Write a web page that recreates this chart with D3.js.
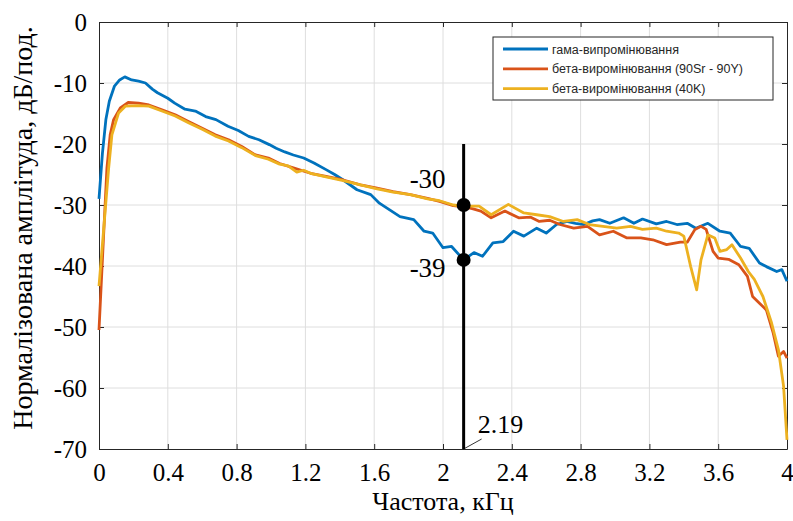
<!DOCTYPE html>
<html>
<head>
<meta charset="utf-8">
<script src="https://cdn.jsdelivr.net/npm/d3@7"></script>
<style>
  body { margin: 0; background: #fff; }
  svg { display: block; }
  .tick text { font-family: "Liberation Serif", "Times New Roman", serif; }
</style>
</head>
<body>
<script>
'use strict'

// chart values
const xTicks = [0, 0.4, 0.8, 1.2, 1.6, 2, 2.4, 2.8, 3.2, 3.6, 4]
const yTicks = [0, -10, -20, -30, -40, -50, -60, -70]

const gammaFreq = [0, 0.02, 0.04, 0.06, 0.09, 0.12, 0.15, 0.19, 0.23, 0.27, 0.31, 0.34, 0.40, 0.44, 0.50, 0.56, 0.62, 0.68, 0.75, 0.81, 0.87, 0.93, 0.99, 1.03, 1.08, 1.13, 1.19, 1.25, 1.32, 1.37, 1.42, 1.50, 1.58, 1.63, 1.69, 1.75, 1.83, 1.89, 1.94, 2.00, 2.05, 2.12, 2.18, 2.23, 2.29, 2.35, 2.41, 2.47, 2.545, 2.60, 2.66, 2.72, 2.77, 2.82, 2.87, 2.91, 2.97, 3.05, 3.11, 3.16, 3.24, 3.30, 3.36, 3.42, 3.47, 3.54, 3.61, 3.67, 3.73, 3.78, 3.84, 3.88, 3.94, 3.97, 4.0]
const gammaDb = [-29, -21.5, -16, -13, -10.5, -9.5, -9.0, -9.5, -9.7, -10.0, -11.0, -11.6, -12.5, -13.3, -14.3, -14.6, -15.5, -16.0, -17.1, -17.8, -18.75, -19.3, -20.1, -20.7, -21.3, -21.8, -22.3, -23.1, -24.2, -25.0, -25.9, -27.5, -28.3, -29.7, -30.8, -31.9, -32.4, -34.3, -34.6, -37.0, -36.8, -39.0, -37.8, -38.4, -36.2, -36.0, -34.3, -35.1, -33.8, -34.6, -33.2, -32.7, -33.0, -33.2, -32.6, -32.4, -33.0, -32.1, -33.0, -32.3, -33.1, -32.7, -33.2, -33.0, -33.8, -33.0, -34.3, -34.6, -36.8, -37.1, -39.5, -40.1, -40.9, -40.6, -42.5]

const srFreq = [0, 0.025, 0.046, 0.065, 0.085, 0.124, 0.17, 0.23, 0.29, 0.366, 0.443, 0.52, 0.60, 0.676, 0.753, 0.83, 0.91, 0.985, 1.05, 1.13, 1.23, 1.32, 1.42, 1.52, 1.61, 1.71, 1.81, 1.91, 1.98, 2.06, 2.12, 2.17, 2.22, 2.28, 2.36, 2.44, 2.51, 2.56, 2.62, 2.68, 2.76, 2.84, 2.91, 2.99, 3.07, 3.15, 3.22, 3.30, 3.38, 3.42, 3.465, 3.50, 3.53, 3.57, 3.60, 3.66, 3.72, 3.77, 3.80, 3.84, 3.88, 3.92, 3.95, 3.98, 4.0]
const srDb = [-50.5, -36, -24, -18.5, -16.0, -14.1, -13.2, -13.3, -13.6, -14.4, -15.2, -16.3, -17.4, -18.5, -19.3, -20.4, -21.8, -22.3, -23.2, -23.9, -24.8, -25.3, -25.9, -26.7, -27.2, -27.8, -28.3, -28.9, -29.4, -30.1, -30.3, -30.6, -31.0, -32.1, -31.0, -32.1, -32.0, -32.7, -32.5, -33.2, -33.8, -33.5, -34.9, -34.3, -35.4, -35.4, -35.7, -36.5, -36.1, -36.1, -34.0, -33.5, -34.0, -37.6, -38.7, -38.9, -39.8, -41.7, -45.0, -46.1, -47.2, -51.0, -54.8, -54.0, -55.1]

const kFreq = [0, 0.03, 0.056, 0.075, 0.114, 0.153, 0.23, 0.29, 0.366, 0.443, 0.52, 0.60, 0.676, 0.753, 0.83, 0.91, 0.985, 1.05, 1.10, 1.15, 1.19, 1.23, 1.32, 1.42, 1.52, 1.61, 1.71, 1.81, 1.91, 1.98, 2.06, 2.12, 2.21, 2.28, 2.38, 2.47, 2.545, 2.62, 2.70, 2.78, 2.85, 2.93, 3.01, 3.09, 3.16, 3.24, 3.30, 3.37, 3.40, 3.44, 3.475, 3.50, 3.54, 3.58, 3.61, 3.65, 3.68, 3.73, 3.775, 3.81, 3.86, 3.91, 3.95, 3.98, 4.0]
const kDb = [-43.3, -33, -24, -18.5, -14.9, -13.8, -13.7, -13.8, -14.6, -15.4, -16.5, -17.6, -18.7, -19.5, -20.6, -21.9, -22.5, -23.3, -23.6, -24.6, -24.3, -24.8, -25.4, -26.0, -26.7, -27.3, -27.9, -28.3, -29.0, -29.3, -30.0, -30.2, -30.2, -31.6, -29.9, -31.3, -31.6, -31.9, -32.7, -32.4, -33.2, -33.5, -33.8, -33.5, -34.0, -33.8, -34.3, -34.6, -35.1, -40.1, -43.9, -39.0, -34.9, -35.4, -37.6, -37.3, -36.5, -38.7, -40.9, -42.2, -45.0, -49.3, -53.7, -59.7, -68.5]

const seriesNames = ['гама-випромінювання', 'бета-виромінювання (90Sr - 90Y)', 'бета-виромінювання (40K)']
const seriesColors = ['#0072BD', '#D95319', '#EDB120']

const markerFreq = 2.12
const markerDb = [-30, -39]
const markerLabel = '2.19'

window.onload = function () {
  const W = 793, H = 521
  const margin = {top: 22, right: 6, bottom: 72, left: 99}
  const width = W - margin.left - margin.right,
        height = H - margin.top - margin.bottom

  const x = d3.scaleLinear().domain([0, 4]).range([0, width])
  const y = d3.scaleLinear().domain([-70, 0]).range([height, 0])

  const svg = d3.select('body').append('svg')
    .attr('width', W).attr('height', H)

  const g = svg.append('g')
    .attr('transform', 'translate(' + [margin.left, margin.top] + ')')

  // grid
  g.append('g').selectAll('line').data(xTicks.slice(1, -1)).enter()
    .append('line')
    .attr('x1', d => x(d)).attr('x2', d => x(d))
    .attr('y1', 0).attr('y2', height)
    .attr('stroke', '#dedede').attr('stroke-width', 1)
  g.append('g').selectAll('line').data(yTicks.slice(1, -1)).enter()
    .append('line')
    .attr('y1', d => y(d)).attr('y2', d => y(d))
    .attr('x1', 0).attr('x2', width)
    .attr('stroke', '#dedede').attr('stroke-width', 1)

  // axes (plain hyphen minus like the original)
  const fmt = d => String(d)
  const xAxis = g.append('g')
    .attr('transform', 'translate(0,' + height + ')')
    .call(d3.axisBottom(x).tickValues(xTicks).tickFormat(fmt).tickSizeInner(-5).tickSizeOuter(0).tickPadding(12))
  const yAxis = g.append('g')
    .call(d3.axisLeft(y).tickValues(yTicks).tickFormat(fmt).tickSizeInner(-5).tickSizeOuter(0).tickPadding(12))
  g.append('g')
    .call(d3.axisTop(x).tickValues(xTicks).tickFormat('').tickSizeInner(-5).tickSizeOuter(0))
  g.append('g')
    .attr('transform', 'translate(' + width + ',0)')
    .call(d3.axisRight(y).tickValues(yTicks).tickFormat('').tickSizeInner(-5).tickSizeOuter(0))

  g.selectAll('.domain').attr('stroke', '#262626')
  g.selectAll('.tick line').attr('stroke', '#262626')
  ;[xAxis, yAxis].forEach(a => a.selectAll('text')
    .attr('fill', '#000')
    .style('font-size', '25px'))
  xAxis.selectAll('text').attr('dy', '0.8em')

  // axis titles
  svg.append('text')
    .attr('x', margin.left + width / 2).attr('y', 510)
    .attr('text-anchor', 'middle')
    .style('font-family', '"Liberation Serif", serif').style('font-size', '26px')
    .text('Частота, кГц')
  svg.append('text')
    .attr('transform', 'translate(' + [32, 228] + ') rotate(-90)')
    .attr('text-anchor', 'middle')
    .style('font-family', '"Liberation Serif", serif').style('font-size', '28px')
    .text('Нормалізована амплітуда, дБ/под.')

  // curves
  const line = d3.line().x(d => x(d[0])).y(d => y(d[1]))
  const series = [
    d3.zip(gammaFreq, gammaDb),
    d3.zip(srFreq, srDb),
    d3.zip(kFreq, kDb)
  ]
  const plot = g.append('g')
  series.forEach((s, i) => {
    plot.append('path')
      .attr('d', line(s))
      .attr('fill', 'none')
      .attr('stroke', seriesColors[i])
      .attr('stroke-width', 2.8)
      .attr('stroke-linejoin', 'round')
  })

  // marker line and points
  g.append('line')
    .attr('x1', x(markerFreq)).attr('x2', x(markerFreq))
    .attr('y1', y(-20)).attr('y2', y(-70))
    .attr('stroke', '#000').attr('stroke-width', 3)
  g.selectAll('.mk').data(markerDb).enter()
    .append('circle')
    .attr('cx', x(markerFreq)).attr('cy', d => y(d))
    .attr('r', 7).attr('fill', '#000')
  g.selectAll('.mkl').data(markerDb).enter()
    .append('text')
    .attr('x', x(markerFreq) - 18)
    .attr('y', (d, i) => y(d) + (i === 0 ? -17 : 17))
    .attr('text-anchor', 'end')
    .style('font-family', '"Liberation Serif", serif').style('font-size', '27px')
    .text(d => d)
  g.append('line')
    .attr('x1', x(markerFreq)).attr('y1', height)
    .attr('x2', x(markerFreq) + 18).attr('y2', height - 10)
    .attr('stroke', '#000').attr('stroke-width', 0.8)
  g.append('text')
    .attr('x', x(markerFreq) + 14).attr('y', height - 16)
    .style('font-family', '"Liberation Serif", serif').style('font-size', '26px')
    .text(markerLabel)

  // legend
  const lg = svg.append('g').attr('transform', 'translate(493,37)')
  lg.append('rect')
    .attr('width', 280).attr('height', 63)
    .attr('fill', '#fff').attr('stroke', '#262626').attr('stroke-width', 1)
  seriesNames.forEach((n, i) => {
    const yy = 12 + i * 19.8
    lg.append('line')
      .attr('x1', 10).attr('x2', 55).attr('y1', yy).attr('y2', yy)
      .attr('stroke', seriesColors[i]).attr('stroke-width', 2.8)
    lg.append('text')
      .attr('x', 59).attr('y', yy + 4.5)
      .style('font-family', '"Liberation Sans", Arial, sans-serif').style('font-size', '12.5px')
      .attr('fill', '#262626')
      .text(n)
  })
}
</script>
</body>
</html>
